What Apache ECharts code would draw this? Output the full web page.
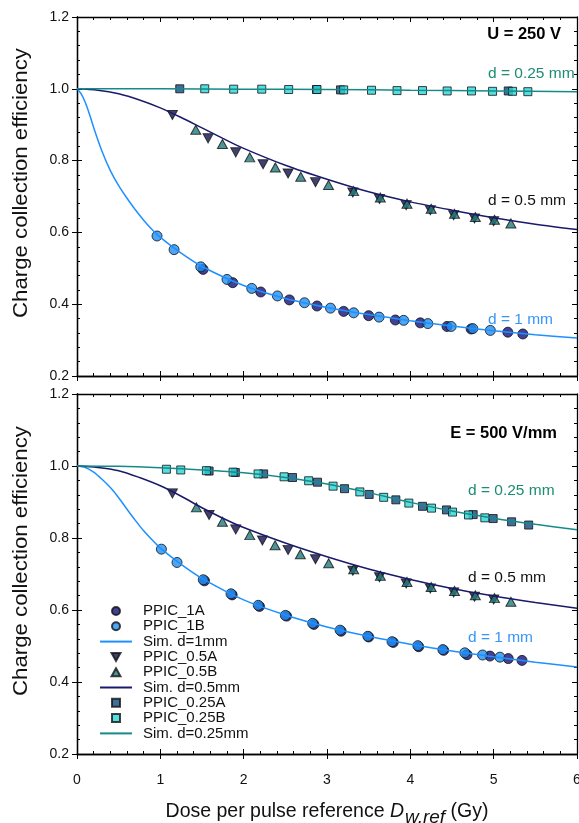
<!DOCTYPE html>
<html><head><meta charset="utf-8">
<script src="https://cdn.jsdelivr.net/npm/echarts@6/dist/echarts.min.js"></script>
<style>html,body{margin:0;padding:0;background:#fff}#c{width:579px;height:823px}</style>
</head><body><div id="c"></div>
<script>
// ---------- DATA ----------
// Top panel (U = 250 V)
const top_1A = [[1.513,0.497],[1.869,0.460],[2.205,0.434],[2.549,0.412],[2.88,0.395],[3.20,0.380],[3.50,0.368],[3.82,0.356],[4.12,0.348],[4.44,0.338],[4.73,0.331],[5.17,0.322],[5.35,0.317]];
const top_1B = [[0.96,0.590],[1.165,0.552],[1.485,0.504],[1.80,0.469],[2.097,0.444],[2.405,0.423],[2.73,0.404],[3.042,0.389],[3.32,0.376],[3.625,0.364],[3.92,0.355],[4.21,0.346],[4.49,0.338],[4.75,0.332],[4.96,0.327]];
const top_05A = [[1.145,0.927],[1.573,0.862],[1.905,0.823],[2.233,0.790],[2.533,0.764],[2.862,0.740],[3.31,0.711],[3.63,0.693],[3.95,0.676],[4.24,0.662],[4.52,0.648],[4.77,0.639],[5.00,0.631]];
const top_05B = [[1.425,0.886],[1.745,0.846],[2.073,0.809],[2.38,0.781],[2.685,0.755],[3.018,0.732],[3.32,0.715],[3.64,0.697],[3.96,0.680],[4.25,0.666],[4.53,0.652],[4.78,0.643],[5.01,0.635],[5.207,0.625]];
const top_025A = [[1.233,1.0],[2.874,0.998],[3.162,0.997],[5.175,0.994]];
const top_025B = [[1.533,1.0],[1.88,0.999],[2.217,0.999],[2.54,0.998],[2.88,0.998],[3.20,0.997],[3.534,0.996],[3.84,0.995],[4.146,0.995],[4.442,0.994],[4.734,0.994],[4.987,0.993],[5.227,0.993],[5.41,0.992]];
const top_sim1_x = [0,0.05,0.1,0.15,0.2,0.3,0.4,0.5,0.6,0.7,0.8,0.9,1.0,1.25,1.5,2.0,2.5,3.0,3.5,4.0,4.5,5.0,5.5,6.0];
const top_sim1_y = [1.0,0.986,0.962,0.929,0.892,0.826,0.772,0.730,0.695,0.663,0.634,0.608,0.586,0.542,0.505,0.452,0.416,0.391,0.371,0.354,0.339,0.326,0.315,0.306];
const top_sim05_x = [0,0.25,0.5,0.75,1.0,1.25,1.5,1.75,2.0,2.5,3.0,3.5,4.0,4.5,5.0,5.5,6.0];
const top_sim05_y = [1.0,0.996,0.986,0.969,0.947,0.92,0.891,0.862,0.834,0.787,0.748,0.713,0.685,0.662,0.641,0.623,0.608];
const top_sim025_x = [0,1,2,3,4,5,6];
const top_sim025_y = [1.0,1.0,0.999,0.998,0.996,0.994,0.992];

// Bottom panel (E = 500 V/mm)
const bot_1A = [[1.53,0.681],[1.862,0.642],[2.19,0.610],[2.515,0.583],[2.843,0.560],[3.17,0.541],[3.50,0.525],[3.795,0.510],[4.10,0.498],[4.40,0.488],[4.68,0.476],[4.955,0.472],[5.175,0.465],[5.34,0.460]];
const bot_1B = [[1.013,0.769],[1.20,0.732],[1.515,0.684],[1.848,0.645],[2.175,0.613],[2.50,0.585],[2.828,0.563],[3.157,0.544],[3.49,0.527],[3.78,0.512],[4.09,0.501],[4.39,0.490],[4.654,0.481],[4.867,0.475],[5.075,0.469]];
const bot_05A = [[1.145,0.924],[1.585,0.864],[1.905,0.824],[2.225,0.793],[2.533,0.767],[2.862,0.741],[3.31,0.709],[3.63,0.691],[3.95,0.674],[4.24,0.660],[4.52,0.649],[4.77,0.637],[5.00,0.629]];
const bot_05B = [[1.433,0.885],[1.745,0.845],[2.073,0.808],[2.377,0.780],[2.68,0.755],[3.02,0.730],[3.32,0.713],[3.64,0.695],[3.96,0.678],[4.25,0.664],[4.53,0.653],[4.78,0.641],[5.01,0.633],[5.207,0.623]];
const bot_025A = [[1.585,0.986],[1.90,0.982],[2.24,0.978],[2.586,0.968],[2.886,0.955],[3.21,0.937],[3.506,0.921],[3.826,0.906],[4.146,0.888],[4.434,0.878],[4.754,0.865],[4.994,0.854],[5.215,0.845],[5.42,0.836]];
const bot_025B = [[1.073,0.991],[1.245,0.989],[1.553,0.987],[1.873,0.983],[2.173,0.978],[2.485,0.970],[2.78,0.959],[3.073,0.944],[3.394,0.928],[3.68,0.913],[3.982,0.897],[4.254,0.883],[4.506,0.872],[4.698,0.864],[4.894,0.856]];
const bot_sim1_x = [0,0.1,0.2,0.3,0.4,0.5,0.6,0.7,0.8,0.9,1.0,1.25,1.5,2.0,2.5,3.0,3.5,4.0,4.5,5.0,5.5,6.0];
const bot_sim1_y = [1.0,0.996,0.983,0.963,0.94,0.912,0.88,0.849,0.82,0.795,0.772,0.727,0.688,0.628,0.586,0.553,0.527,0.505,0.486,0.47,0.455,0.442];
const bot_sim05_x = [0,0.25,0.5,0.75,1.0,1.25,1.5,1.75,2.0,2.5,3.0,3.5,4.0,4.5,5.0,5.5,6.0];
const bot_sim05_y = [1.0,0.996,0.987,0.968,0.945,0.916,0.884,0.855,0.829,0.786,0.748,0.714,0.685,0.66,0.639,0.621,0.605];
const bot_sim025_x = [0,0.5,1.0,1.5,2.0,2.5,3.0,3.5,4.0,4.5,5.0,5.5,6.0];
const bot_sim025_y = [1.0,0.999,0.995,0.989,0.981,0.968,0.95,0.926,0.899,0.875,0.855,0.838,0.823];

const seriesNames = ['PPIC_1A','PPIC_1B','Sim. d=1mm','PPIC_0.5A','PPIC_0.5B','Sim. d=0.5mm','PPIC_0.25A','PPIC_0.25B','Sim. d=0.25mm'];
const yTickLabels = ['0.2','0.4','0.6','0.8','1.0','1.2'];
const xTickLabels = ['0','1','2','3','4','5','6'];
const yTitle = 'Charge collection efficiency';

// ---------- STYLE ----------
const FONT = '"Liberation Sans", Arial, Helvetica, sans-serif';
const C = {
  c1A:'#12127a', c1B:'#1f8ff2', l1:'#1e90ff',
  c05A:'#12124e', c05B:'#227c7c', l05:'#1a1a6a',
  c025A:'#104a82', c025B:'#2ad6d6', l025:'#168a8a'
};
const DOWN_TRI = 'path://M0,0 L10,0 L5,9 Z';
const UP_TRI = 'path://M5,0 L10,9 L0,9 Z';
const SQUARE = 'path://M0,0 L10,0 L10,10 L0,10 Z';

function zip(xs, ys){ return xs.map((x,i)=>[x, ys[i]]); }

function sc(name, data, gi, symbol, size, color){
  return {type:'scatter', name, data, xAxisIndex: gi*3, yAxisIndex: gi*3, symbol, symbolSize: size, z: 3,
    itemStyle:{color, borderColor:'#111', borderWidth:1}, emphasis:{disabled:true}};
}
function ln(name, xs, ys, gi, color){
  return {type:'line', name, data: zip(xs, ys), xAxisIndex: gi*3, yAxisIndex: gi*3, symbol:'none', showSymbol:false,
    smooth:0.3, z: 4, lineStyle:{color, width:1.5}, itemStyle:{color}, emphasis:{disabled:true}};
}

function panelSeries(gi, d){
  return [
    sc('PPIC_1A', d.a1, gi, 'circle', 10, C.c1A),
    sc('PPIC_1B', d.b1, gi, 'circle', 10, C.c1B),
    ln('Sim. d=1mm', d.s1x, d.s1y, gi, C.l1),
    sc('PPIC_0.5A', d.a05, gi, DOWN_TRI, [10,9], C.c05A),
    sc('PPIC_0.5B', d.b05, gi, UP_TRI, [10,9], C.c05B),
    ln('Sim. d=0.5mm', d.s05x, d.s05y, gi, C.l05),
    sc('PPIC_0.25A', d.a025, gi, 'rect', 8, C.c025A),
    sc('PPIC_0.25B', d.b025, gi, 'rect', 8, C.c025B),
    ln('Sim. d=0.25mm', d.s025x, d.s025y, gi, C.l025)
  ];
}

const axLine = {show:true, onZero:false, lineStyle:{color:'#000', width:1.3}};
function xAxes(gi, showLabels){
  const base = {gridIndex: gi, type:'value', min:0, max:6, interval:1, splitLine:{show:false}, axisLine: axLine};
  const main = Object.assign({}, base, {position:'bottom',
    axisTick:{show:true, inside:false, length:5, lineStyle:{color:'#000'}},
    axisLabel:{show:showLabels, margin:19, fontFamily:FONT, fontSize:14, color:'#111',
      formatter: v => xTickLabels[Math.round(v)]}});
  if (showLabels){
    main.name = '{a|Dose per pulse reference }{b|D}{c|w,ref}{a| (Gy)}';
    main.nameLocation = 'middle';
    main.nameGap = 43;
    main.nameTextStyle = {fontFamily:FONT, fontSize:19.5, color:'#111',
      rich:{a:{fontFamily:FONT, fontSize:19.5, color:'#111'},
            b:{fontFamily:FONT, fontSize:19.5, fontStyle:'italic', color:'#111'},
            c:{fontFamily:FONT, fontSize:19, fontStyle:'italic', color:'#111', padding:[11,0,0,1]}}};
  }
  const inner = pos => Object.assign({}, base, {position:pos,
    axisTick:{show:true, inside:true, length:5, lineStyle:{color:'#000'}},
    minorTick:{show:true, splitNumber:5, length:3, lineStyle:{color:'#000'}},
    axisLabel:{show:false}});
  return [main, inner('bottom'), inner('top')];
}
function yAxes(gi){
  const base = {gridIndex: gi, type:'value', min:0.2, max:1.2, interval:0.2, splitLine:{show:false}, axisLine: axLine};
  const main = Object.assign({}, base, {position:'left',
    axisTick:{show:true, inside:false, length:5, lineStyle:{color:'#000'}},
    axisLabel:{show:true, margin:8, fontFamily:FONT, fontSize:14, color:'#111',
      formatter: v => yTickLabels[Math.round((v-0.2)/0.2)]}});
  const inner = pos => Object.assign({}, base, {position:pos,
    axisTick:{show:true, inside:true, length:5, lineStyle:{color:'#000'}},
    minorTick:{show:true, splitNumber:5, length:3, lineStyle:{color:'#000'}},
    axisLabel:{show:false}});
  return [main, inner('left'), inner('right')];
}

function txt(x, y, text, color, size, bold, align){
  return {type:'text', x, y, z:10, style:{text, fill:color, font:(bold?'bold ':'')+size+'px '+FONT,
    textAlign: align||'left', textVerticalAlign:'middle'}};
}
function vtxt(x, y, text){
  return {type:'text', x, y, z:10, rotation:Math.PI/2, scaleX:1.11,
    style:{text, fill:'#111', font:'20px '+FONT, textAlign:'center', textVerticalAlign:'middle'}};
}
const lineLegendStyle = {color:'rgba(0,0,0,0)', borderColor:'rgba(0,0,0,0)', borderWidth:0};
const legendIcons = {'PPIC_1A':'circle','PPIC_1B':'circle','PPIC_0.5A':DOWN_TRI,'PPIC_0.5B':UP_TRI,'PPIC_0.25A':SQUARE,'PPIC_0.25B':SQUARE};

const chart = echarts.init(document.getElementById('c'), null, {renderer:'canvas'});
chart.setOption({
  animation:false,
  backgroundColor:'#fff',
  grid:[{left:77, right:2, top:17, height:359, outerBoundsMode:'none', containLabel:false},
        {left:77, right:2, top:394, height:360, outerBoundsMode:'none', containLabel:false}],
  xAxis:[...xAxes(0,false), ...xAxes(1,true)],
  yAxis:[...yAxes(0), ...yAxes(1)],
  legend:{orient:'vertical', left:94, top:598.5, itemWidth:32, itemHeight:8, itemGap:0.3,
    selectedMode:false,
    data: seriesNames.map(n => legendIcons[n] ? {name:n, icon:legendIcons[n]} : {name:n, itemStyle:lineLegendStyle}),
    textStyle:{fontFamily:FONT, fontSize:15, color:'#111', lineHeight:15, padding:[0,0,0,6]}},
  series:[
    ...panelSeries(0, {a1:top_1A, b1:top_1B, s1x:top_sim1_x, s1y:top_sim1_y, a05:top_05A, b05:top_05B,
      s05x:top_sim05_x, s05y:top_sim05_y, a025:top_025A, b025:top_025B, s025x:top_sim025_x, s025y:top_sim025_y}),
    ...panelSeries(1, {a1:bot_1A, b1:bot_1B, s1x:bot_sim1_x, s1y:bot_sim1_y, a05:bot_05A, b05:bot_05B,
      s05x:bot_sim05_x, s05y:bot_sim05_y, a025:bot_025A, b025:bot_025B, s025x:bot_sim025_x, s025y:bot_sim025_y})
  ],
  graphic:[
    vtxt(21, 183, yTitle),
    vtxt(21, 561, yTitle),
    txt(561, 34, 'U = 250 V', '#000', 16.5, true, 'right'),
    txt(488, 74, 'd = 0.25 mm', '#1c8c72', 15.5),
    txt(488, 201, 'd = 0.5 mm', '#111', 15.5),
    txt(488, 320, 'd = 1 mm', '#3596fa', 15.5),
    txt(557, 433, 'E = 500 V/mm', '#000', 16.5, true, 'right'),
    txt(468, 491, 'd = 0.25 mm', '#1c8c72', 15.5),
    txt(468, 578, 'd = 0.5 mm', '#111', 15.5),
    txt(468, 638, 'd = 1 mm', '#3596fa', 15.5)
  ]
});
</script></body></html>
